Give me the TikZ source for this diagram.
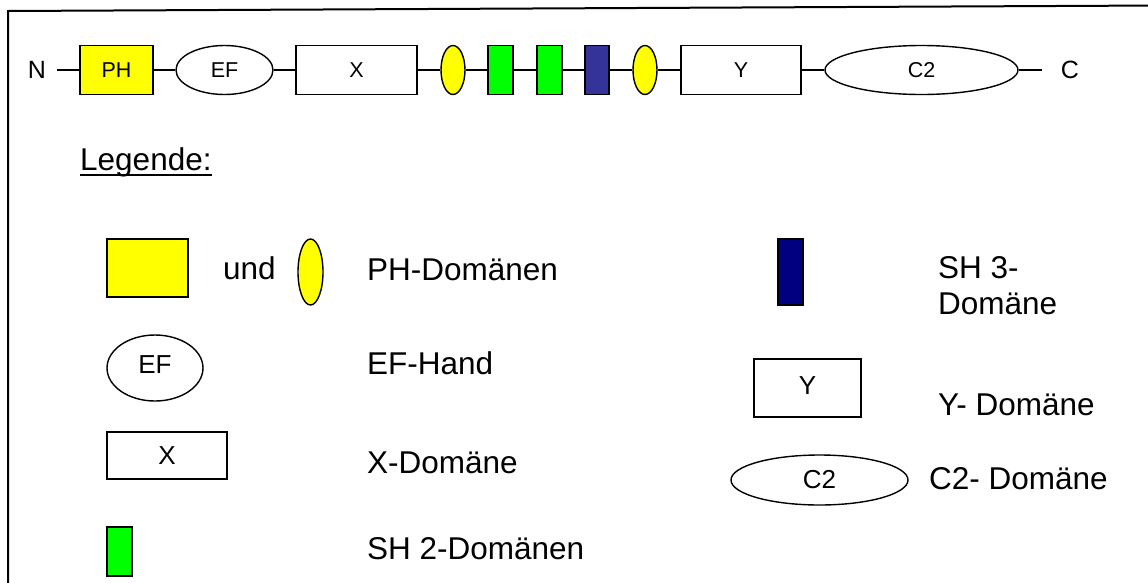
\documentclass[tikz,border=0pt]{standalone}
\usepackage{fontspec}
\setmainfont{Liberation Sans}
\usetikzlibrary{shapes.geometric}

\definecolor{phyellow}{HTML}{FFFF00}
\definecolor{shgreen}{HTML}{00FF00}
\definecolor{shblue}{HTML}{333399}
\definecolor{shnavy}{HTML}{000080}

\tikzset{
  dom/.style={draw=black, line width=1.4pt, inner sep=0pt, font=\fontsize{21.5}{25}\selectfont},
  dombox/.style={dom, rectangle, minimum width=#1, minimum height=49pt},
  domell/.style={dom, ellipse, minimum width=#1, minimum height=49pt},
  link/.style={line width=1.4pt},
  lgbig/.style={font=\fontsize{26}{30}\selectfont},
  lgtext/.style={anchor=base west, inner sep=0pt, font=\fontsize{31.5}{36}\selectfont},
  endtext/.style={inner sep=0pt, font=\fontsize{25}{29}\selectfont}
}

\begin{document}
\begin{tikzpicture}[x=1pt, y=-1pt]
  \useasboundingbox (0,0) rectangle (1148,582);
  \fill[white] (0,0) rectangle (1148,582);

  % outer frame (continues past the right and bottom edges)
  \begin{scope}
    \clip (0,0) rectangle (1148,582);
    \draw[line width=2pt] (8,600) -- (8,11) -- (1160,5.5);
  \end{scope}

  % ---- domain chain ----
  \node[endtext, anchor=base] (N) at (37,78) {N};
  \coordinate (nend) at (57,70);
  \node[dombox=73pt, fill=phyellow] (ph) at (116.5,70) {PH};
  \node[domell=97pt] (ef) at (224.5,70) {\raisebox{-3pt}{EF}};
  \node[dombox=121pt] (x) at (356.5,70) {X};
  \node[domell=24pt, fill=phyellow] (ph2) at (453,70) {};
  \node[dombox=25pt, fill=shgreen] (sh2a) at (500.5,70) {};
  \node[dombox=25pt, fill=shgreen] (sh2b) at (549.5,70) {};
  \node[dombox=24pt, fill=shblue] (sh3) at (597,70) {};
  \node[domell=24pt, fill=phyellow] (ph3) at (645,70) {};
  \node[dombox=120pt] (y) at (741,70) {Y};
  \node[domell=193pt] (c2) at (921.5,70) {\raisebox{-3pt}{C2}};
  \coordinate (cend) at (1042,70);
  \node[endtext, anchor=base] (C) at (1070,78) {C};

  \draw[link] (nend) -- (ph.west);
  \draw[link] (ph.east) -- (ef.west);
  \draw[link] (ef.east) -- (x.west);
  \draw[link] (x.east) -- (ph2.west);
  \draw[link] (ph2.east) -- (sh2a.west);
  \draw[link] (sh2a.east) -- (sh2b.west);
  \draw[link] (sh2b.east) -- (sh3.west);
  \draw[link] (sh3.east) -- (ph3.west);
  \draw[link] (ph3.east) -- (y.west);
  \draw[link] (y.east) -- (c2.west);
  \draw[link] (c2.east) -- (cend);

  % ---- legend ----
  \node[lgtext] (legtitle) at (80,170) {Legende:};
  \draw[line width=2.2pt] ([yshift=-5pt]legtitle.base west) -- ([yshift=-5pt]legtitle.base east);

  % PH domains
  \node[draw, line width=1.4pt, fill=phyellow, minimum width=81pt, minimum height=58pt, inner sep=0pt] (lgph) at (147.5,268) {};
  \node[lgtext] (lgund) at (223,279) {und};
  \node[draw, line width=1.4pt, fill=phyellow, ellipse, minimum width=25pt, minimum height=66pt, inner sep=0pt] (lgph2) at (310.5,272) {};
  \node[lgtext] (lgphtxt) at (367,280) {PH-Domänen};

  % EF hand
  \node[draw, line width=1.4pt, ellipse, minimum width=96pt, minimum height=66pt, inner sep=0pt, lgbig] (lgef) at (155,368) {\raisebox{6pt}{EF}};
  \node[lgtext] (lgeftxt) at (367,374) {EF-Hand};

  % X domain
  \node[draw, line width=1.4pt, minimum width=120pt, minimum height=47pt, inner sep=0pt, lgbig] (lgx) at (167,455.5) {X};
  \node[lgtext] (lgxtxt) at (367,473) {X-Domäne};

  % SH2 domains
  \node[draw, line width=1.4pt, fill=shgreen, minimum width=25pt, minimum height=49pt, inner sep=0pt] (lgsh2) at (119.5,551.5) {};
  \node[lgtext] (lgsh2txt) at (367,559) {SH 2-Domänen};

  % SH3 domain
  \node[draw, line width=1.4pt, fill=shnavy, minimum width=25pt, minimum height=66pt, inner sep=0pt] (lgsh3) at (790.5,272) {};
  \node[lgtext, align=left] (lgsh3txt) at (938,314) {SH 3-\\Domäne};

  % Y domain
  \node[draw, line width=1.4pt, minimum width=107pt, minimum height=58pt, inner sep=0pt, lgbig] (lgy) at (807.5,388) {\raisebox{4pt}{Y}};
  \node[lgtext] (lgytxt) at (938,415) {Y- Domäne};

  % C2 domain
  \node[draw, line width=1.4pt, ellipse, minimum width=177pt, minimum height=50pt, inner sep=0pt, lgbig] (lgc2) at (819.5,480) {C2};
  \node[lgtext] (lgc2txt) at (929,489) {C2- Domäne};
\end{tikzpicture}
\end{document}
